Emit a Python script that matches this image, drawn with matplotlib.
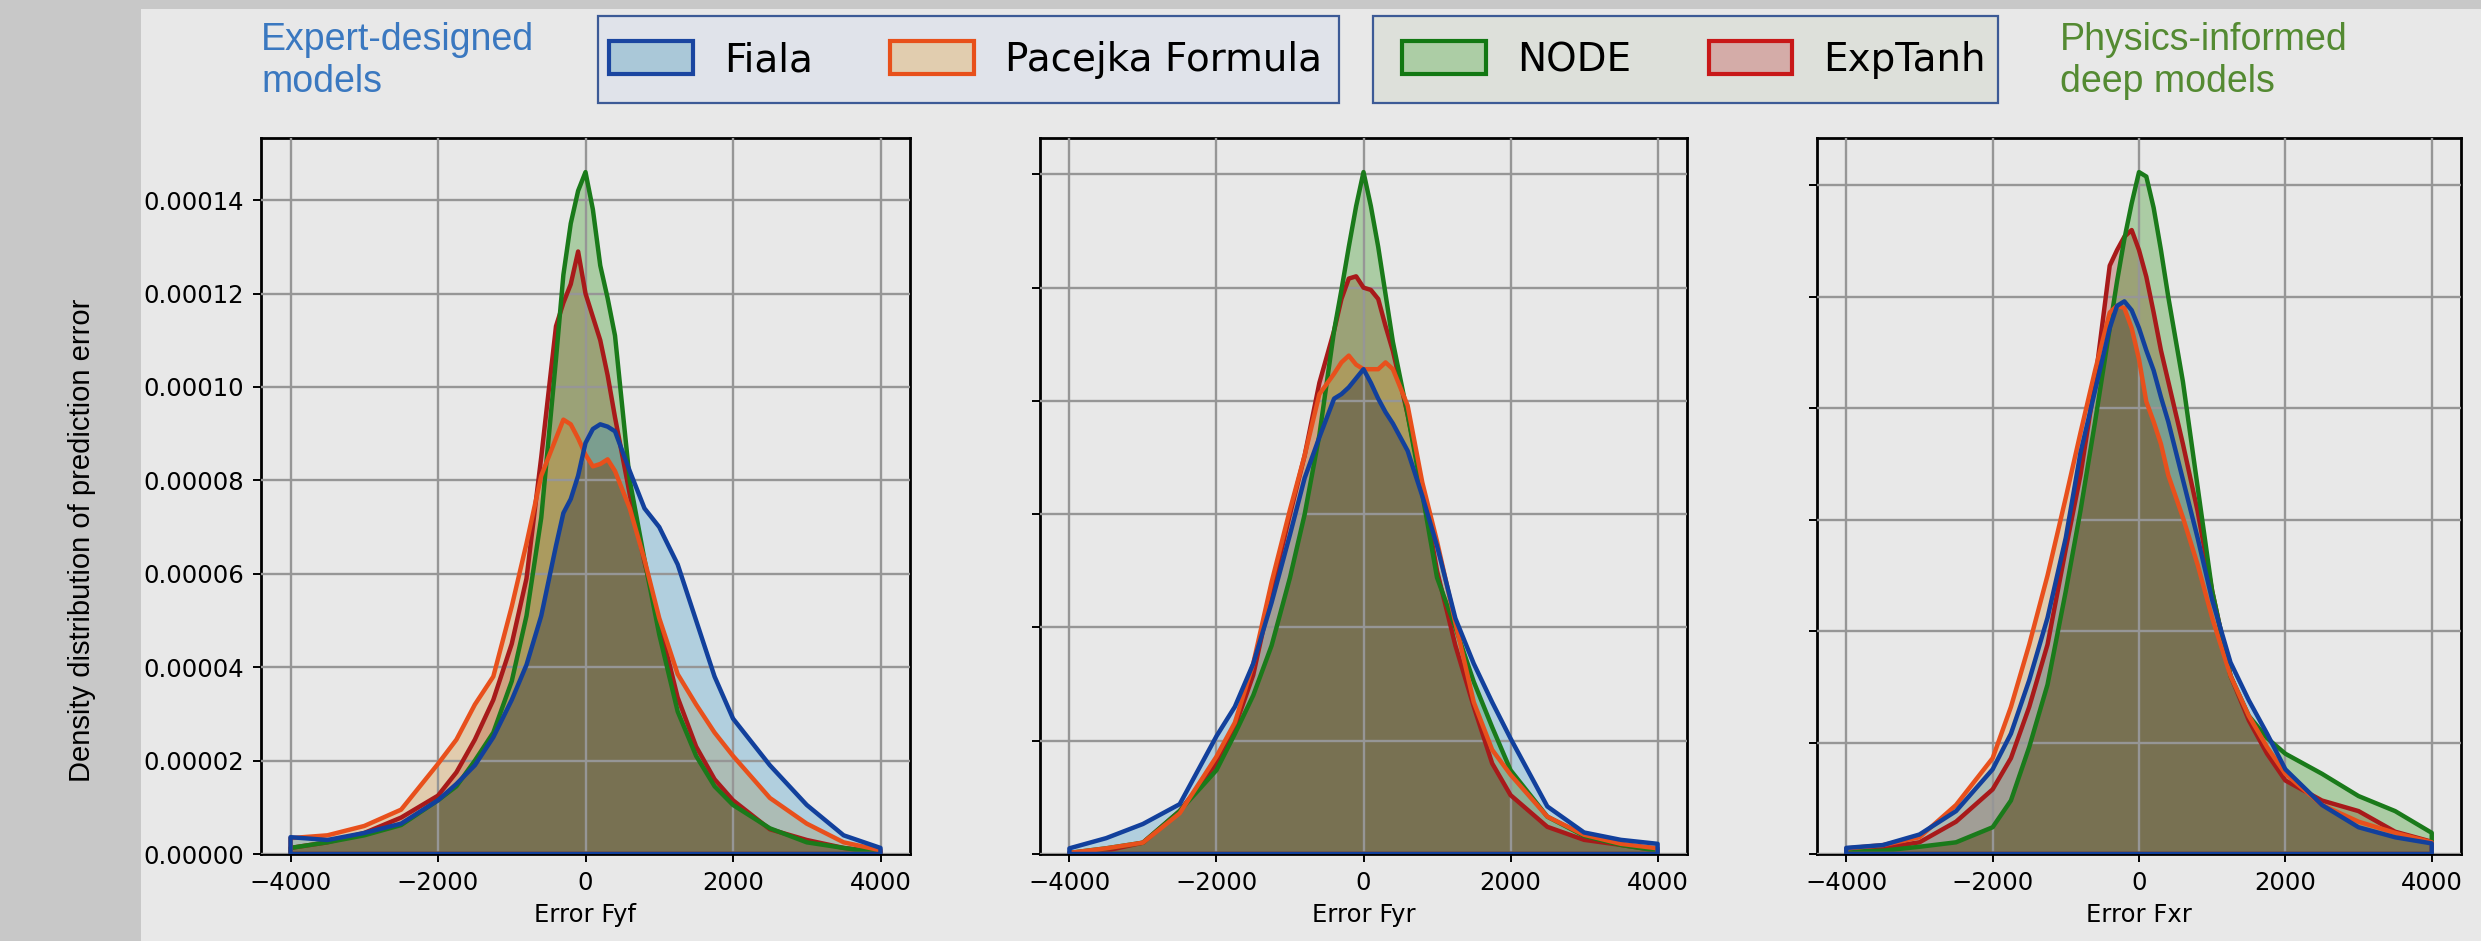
import matplotlib
matplotlib.use("Agg")
import matplotlib.pyplot as plt
import numpy as np
from matplotlib.patches import Patch, Rectangle
from matplotlib.ticker import FormatStrFormatter, MultipleLocator

# error grid shared by every curve
err = [-4000, -3500, -3000, -2500, -2000, -1750, -1500, -1250, -1000, -800, -600,
       -400, -300, -200, -100, 0, 100, 200, 300, 400, 600, 800, 1000, 1250,
       1500, 1750, 2000, 2500, 3000, 3500, 4000]

models = ["Fiala", "Pacejka Formula", "NODE", "ExpTanh"]
xlabels = ["Error Fyf", "Error Fyr", "Error Fxr"]

# density values, in units of 1e-5
fyf_fiala = [0.36, 0.30, 0.45, 0.65, 1.15, 1.50, 1.90, 2.50, 3.30, 4.05, 5.10, 6.60, 7.30, 7.60, 8.10, 8.80,
             9.10, 9.20, 9.15, 9.05, 8.20, 7.40, 7.00, 6.20, 5.00, 3.80, 2.90, 1.90, 1.05, 0.40, 0.13]
fyf_pacejka = [0.34, 0.40, 0.60, 0.95, 1.93, 2.45, 3.20, 3.80, 5.30, 6.65, 8.10, 8.90, 9.30, 9.20, 8.90, 8.55,
               8.30, 8.35, 8.45, 8.20, 7.40, 6.30, 5.05, 3.85, 3.20, 2.60, 2.10, 1.20, 0.65, 0.25, 0.08]
fyf_node = [0.13, 0.25, 0.40, 0.62, 1.15, 1.45, 2.00, 2.60, 3.70, 5.10, 7.20, 10.60, 12.40, 13.50, 14.20, 14.60,
            13.80, 12.60, 11.90, 11.10, 8.00, 6.30, 4.70, 3.05, 2.10, 1.45, 1.05, 0.55, 0.25, 0.13, 0.02]
fyf_exptanh = [0.13, 0.25, 0.45, 0.78, 1.25, 1.75, 2.45, 3.30, 4.50, 5.90, 8.50, 11.30, 11.80, 12.20, 12.90, 12.00,
               11.50, 11.00, 10.25, 9.35, 7.70, 6.25, 4.95, 3.35, 2.30, 1.60, 1.15, 0.53, 0.30, 0.13, 0.04]

fyr_fiala = [0.10, 0.28, 0.53, 0.88, 2.08, 2.60, 3.36, 4.44, 5.64, 6.64, 7.36, 8.04, 8.12, 8.24, 8.40, 8.56,
             8.32, 8.04, 7.80, 7.60, 7.12, 6.32, 5.44, 4.16, 3.36, 2.68, 2.04, 0.84, 0.38, 0.25, 0.18]
fyr_pacejka = [0.02, 0.10, 0.20, 0.72, 1.72, 2.32, 3.36, 4.80, 6.08, 7.04, 8.12, 8.48, 8.68, 8.80, 8.64, 8.56,
               8.56, 8.56, 8.68, 8.56, 7.92, 6.56, 5.52, 4.08, 2.68, 1.84, 1.40, 0.66, 0.34, 0.18, 0.10]
fyr_node = [0.02, 0.10, 0.20, 0.76, 1.48, 2.12, 2.80, 3.68, 4.88, 6.00, 7.40, 9.24, 9.96, 10.72, 11.44, 12.04,
            11.44, 10.72, 9.88, 9.04, 7.76, 6.36, 4.88, 4.00, 3.04, 2.24, 1.48, 0.66, 0.32, 0.16, 0.06]
fyr_exptanh = [0.02, 0.06, 0.20, 0.76, 1.60, 2.24, 3.16, 4.64, 6.00, 7.04, 8.32, 9.24, 9.80, 10.16, 10.20, 10.00,
               9.96, 9.80, 9.32, 8.88, 7.76, 6.48, 5.00, 3.68, 2.60, 1.60, 1.04, 0.48, 0.25, 0.16, 0.06]

fxr_fiala = [0.11, 0.16, 0.35, 0.77, 1.52, 2.16, 3.12, 4.24, 5.68, 7.20, 8.32, 9.44, 9.84, 9.92, 9.76, 9.44,
             9.04, 8.68, 8.20, 7.76, 6.72, 5.68, 4.56, 3.44, 2.76, 2.16, 1.52, 0.88, 0.48, 0.30, 0.19]
fxr_pacejka = [0.10, 0.16, 0.30, 0.88, 1.72, 2.64, 3.76, 5.00, 6.40, 7.56, 8.68, 9.72, 9.84, 9.80, 9.44, 8.88,
               8.12, 7.76, 7.36, 6.80, 6.04, 5.20, 4.24, 3.20, 2.48, 1.92, 1.44, 0.88, 0.58, 0.38, 0.21]
fxr_node = [0.04, 0.06, 0.13, 0.21, 0.48, 0.96, 1.92, 3.04, 4.72, 6.16, 7.76, 9.44, 10.28, 11.04, 11.68, 12.24,
            12.16, 11.60, 10.84, 10.00, 8.48, 6.60, 4.72, 3.20, 2.48, 2.08, 1.80, 1.44, 1.04, 0.77, 0.38]
fxr_exptanh = [0.06, 0.11, 0.21, 0.58, 1.16, 1.72, 2.64, 3.76, 5.48, 6.80, 8.48, 10.56, 10.84, 11.08, 11.20, 10.84,
               10.36, 9.72, 9.04, 8.48, 7.36, 6.16, 4.72, 3.20, 2.40, 1.80, 1.32, 0.96, 0.77, 0.40, 0.22]

panels = [
    [fyf_fiala, fyf_pacejka, fyf_node, fyf_exptanh],
    [fyr_fiala, fyr_pacejka, fyr_node, fyr_exptanh],
    [fxr_fiala, fxr_pacejka, fxr_node, fxr_exptanh],
]

line_colors = ["#12409c", "#e8501c", "#1a7a1a", "#a81a1a"]
fill_colors = ["#3498c7", "#d18e2a", "#208e09", "#9f2013"]
legend_faces = ["#aac8d8", "#e1cdaf", "#accda5", "#d4aca8"]
legend_edges = ["#1a45a0", "#e8501a", "#127812", "#c81818"]
overlap_color = "#787152"
bg = "#e8e8e8"

W, H = 2481, 941
fig = plt.figure(figsize=(W / 100, H / 100), dpi=100, facecolor=bg)

# grey strips of the slide
fig.patches.append(Rectangle((0, 0), 141 / W, 1, transform=fig.transFigure,
                             facecolor="#c8c8c8", edgecolor="none", zorder=0))
fig.patches.append(Rectangle((0, 1 - 9 / H), 1, 9 / H, transform=fig.transFigure,
                             facecolor="#c8c8c8", edgecolor="none", zorder=0))

axes_px = [(261, 649), (1040, 647), (1817, 644)]
x = np.array(err, dtype=float)

for i, (left, width) in enumerate(axes_px):
    ax = fig.add_axes([left / W, 87 / H, width / W, 716 / H])
    ax.set_facecolor(bg)
    curves = [np.array(c) * 1e-5 for c in panels[i]]

    # seaborn draws hue levels in reverse order
    for k in reversed(range(4)):
        ax.fill_between(x, curves[k], color=fill_colors[k], alpha=0.3, lw=0, zorder=1)
    ax.fill_between(x, np.min(curves, axis=0), color=overlap_color, lw=0, zorder=1.5)
    for k in reversed(range(4)):
        ax.fill_between(x, curves[k], facecolor="none", edgecolor=line_colors[k],
                        lw=3.2, zorder=3)

    top = max(c.max() for c in curves)
    ax.set_xlim(-4400, 4400)
    ax.set_ylim(0, top * 1.05)
    ax.set_xticks([-4000, -2000, 0, 2000, 4000])
    ax.yaxis.set_major_locator(MultipleLocator(2e-5))
    ax.yaxis.set_major_formatter(FormatStrFormatter("%.5f"))
    ax.set_axisbelow(False)
    ax.grid(True, color="#969696", lw=1.7, zorder=2.5)
    for s in ax.spines.values():
        s.set_color("black")
        s.set_linewidth(2)
    ax.tick_params(labelsize=17.5, length=6, width=1.4, pad=6)
    ax.set_xlabel(xlabels[i], fontsize=17.5, labelpad=6)
    if i > 0:
        ax.tick_params(labelleft=False)

fig.text(82 / W, 1 - 540 / H, "Density distribution of prediction error", rotation=90,
         ha="center", va="center", fontsize=21, family="Liberation Sans")

fig.text(261 / W, 1 - 22 / H, "Expert-designed\nmodels", color="#3a78c0", fontsize=27,
         family="Liberation Sans", ha="left", va="top", linespacing=1.2)
fig.text(2060 / W, 1 - 22 / H, "Physics-informed\ndeep models", color="#548a32", fontsize=27,
         family="Liberation Sans", ha="left", va="top", linespacing=1.2)

# legend frames
fig.patches.append(Rectangle((598 / W, 1 - 103 / H), 741 / W, 87 / H, transform=fig.transFigure,
                             facecolor="#e0e3ea", edgecolor="#3c5a96", lw=1.6, zorder=1))
fig.patches.append(Rectangle((1373 / W, 1 - 103 / H), 625 / W, 87 / H, transform=fig.transFigure,
                             facecolor="#dde0da", edgecolor="#3c5a96", lw=1.6, zorder=1))

handles = [Patch(facecolor=legend_faces[k], edgecolor=legend_edges[k], lw=3, label=models[k])
           for k in range(4)]
leg_kw = dict(loc="center", ncol=2, frameon=False, fontsize=28, handlelength=2.15,
              handleheight=0.9, handletextpad=0.8, columnspacing=2.0)
fig.legend(handles=handles[:2], bbox_to_anchor=(965.5 / W, 1 - 60 / H), **leg_kw)
fig.legend(handles=handles[2:], bbox_to_anchor=(1694 / W, 1 - 60 / H), **leg_kw)

fig.savefig("out.png", dpi=100, facecolor=bg)
